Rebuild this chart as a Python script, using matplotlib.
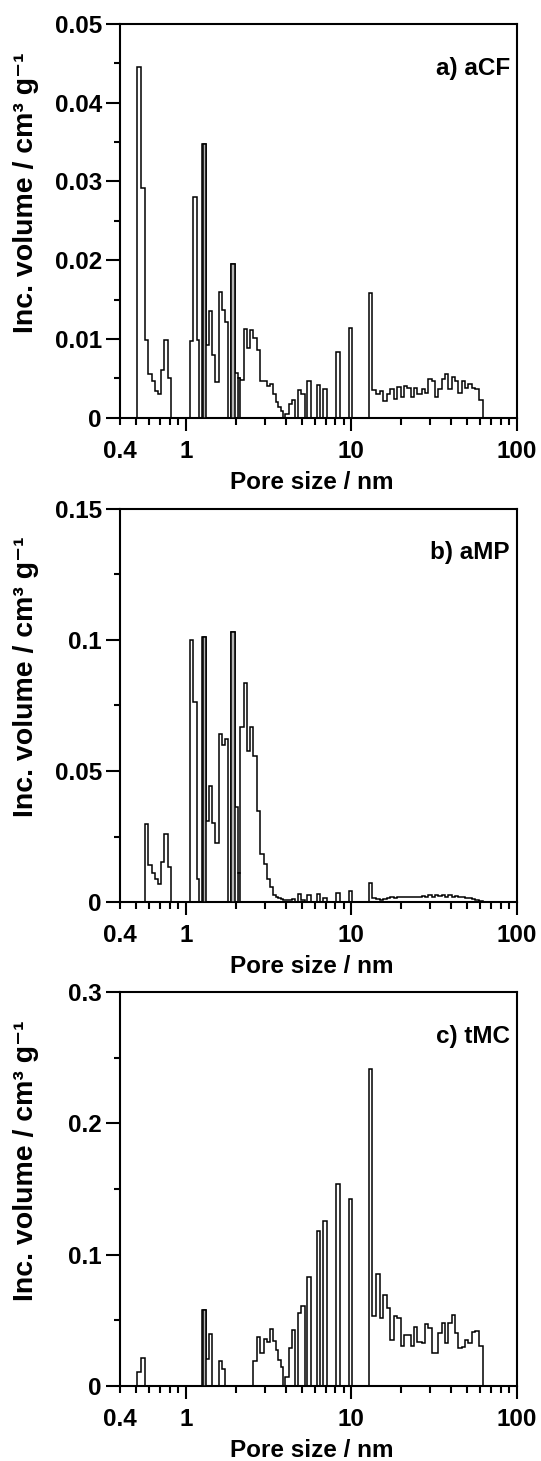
#Incremental pore volume distributions for three carbons (aCF, aMP, tMC),
#stacked in three panels on a log pore-size axis.

import numpy as np
import matplotlib
matplotlib.use('Agg')
import matplotlib.pyplot as plt

plt.rcParams['font.family'] = ['Liberation Sans', 'DejaVu Sans']
plt.rcParams['font.weight'] = 'bold'

######## DATA ##################################################################
#bin edges in nm (shared by all three samples)
poreEdges = [0.505, 0.533, 0.564, 0.594, 0.622, 0.652, 0.677, 0.709, 0.739, 0.778, 0.815,
             1.057, 1.098, 1.161, 1.205, 1.245, 1.262, 1.322, 1.372, 1.438, 1.506, 1.578,
             1.645, 1.723, 1.805, 1.883, 1.981, 2.076, 2.135, 2.236, 2.343, 2.431, 2.547,
             2.681, 2.822, 2.956, 3.097, 3.214, 3.367, 3.479, 3.610, 3.747, 3.854, 3.981,
             4.171, 4.369, 4.577, 4.751, 4.977, 5.214, 5.412, 5.723, 6.192, 6.486, 6.732,
             7.118, 8.037, 8.498, 9.679, 10.14, 12.74, 13.35, 13.98, 14.85, 15.56, 16.30,
             17.07, 18.06, 18.92, 19.82, 20.76, 21.75, 22.78, 23.87, 25.00, 26.56, 27.83,
             29.15, 30.54, 31.99, 33.52, 35.11, 36.78, 38.54, 40.37, 42.29, 44.31, 46.42,
             48.63, 50.94, 53.37, 55.91, 58.57, 62.22]

#incremental volume per bin, cm3/g
volACF = [0.0445, 0.0292, 0.0099, 0.0055, 0.0046, 0.0034, 0.0030, 0.0060, 0.0099, 0.0051, 0,
          0.0097, 0.0280, 0.0099, 0,
          0.0347, 0.0347, 0.0092, 0.0135, 0.0080, 0.0045, 0.0160, 0.0137, 0.0122, 0,
          0.0195, 0.0057, 0.0050, 0.0048, 0.0113, 0.0088, 0.0111, 0.0101, 0.0086, 0.0047,
          0.0046, 0.0040, 0.0043, 0.0030, 0.0020, 0.0014, 0.0008, 0, 0.0005, 0.0017,
          0.0022, 0, 0.0035, 0.0030, 0, 0.0047, 0, 0.0041, 0, 0.0037,
          0, 0.0083, 0, 0.0114, 0, 0.0158,
          0.0035, 0.0030, 0.0034, 0.0021, 0.0030, 0.0037, 0.0024, 0.0039, 0.0026, 0.0040,
          0.0038, 0.0026, 0.0038, 0.0030, 0.0036, 0.0031, 0.0049, 0.0046, 0.0026, 0.0037,
          0.0049, 0.0055, 0.0036, 0.0052, 0.0047, 0.0032, 0.0046, 0.0038, 0.0043, 0.0038,
          0.0036, 0.0023]

volAMP = [0, 0, 0.0297, 0.0142, 0.0113, 0.0088, 0.0069, 0.0152, 0.0259, 0.0136, 0,
          0.0999, 0.0764, 0.0088, 0,
          0.1011, 0.1011, 0.0311, 0.0443, 0.0301, 0.0225, 0.0643, 0.0599, 0.0621, 0,
          0.1030, 0.0362, 0.0110, 0.0669, 0.0834, 0.0576, 0.0666, 0.0558, 0.0349, 0.0183,
          0.0145, 0.0088, 0.0060, 0.0028, 0.0022, 0.0015, 0.0011, 0.0010, 0.0008, 0.0010,
          0.0012, 0, 0.0030, 0.0010, 0, 0.0028, 0, 0.0030, 0, 0.0015,
          0, 0.0037, 0, 0.0043, 0, 0.0072,
          0.0015, 0.0012, 0.0009, 0.0012, 0.0015, 0.0019, 0.0015, 0.0019, 0.0022, 0.0019,
          0.0022, 0.0019, 0.0022, 0.0019, 0.0024, 0.0022, 0.0026, 0.0022, 0.0028, 0.0024,
          0.0028, 0.0022, 0.0026, 0.0022, 0.0024, 0.0019, 0.0022, 0.0017, 0.0015, 0.0013,
          0.0010, 0.0006]

volTMC = [0.0107, 0.0214, 0, 0, 0, 0, 0, 0, 0, 0, 0,
          0, 0, 0, 0,
          0.0577, 0.0577, 0.0203, 0.0394, 0, 0, 0.0186, 0.0127, 0, 0,
          0, 0, 0, 0, 0, 0, 0, 0.0190, 0.0370, 0.0250,
          0.0360, 0.0330, 0.0430, 0.0340, 0.0270, 0.0200, 0.0140, 0, 0.0069, 0.0285,
          0.0425, 0, 0.0554, 0.0610, 0, 0.0826, 0, 0.1177, 0, 0.1258,
          0, 0.1535, 0, 0.1420, 0, 0.2417,
          0.0531, 0.0849, 0.0514, 0.0691, 0.0590, 0.0348, 0.0531, 0.0514, 0.0302, 0.0386,
          0.0386, 0.0302, 0.0450, 0.0330, 0.0328, 0.0468, 0.0437, 0.0252, 0.0252, 0.0399,
          0.0475, 0.0323, 0.0475, 0.0539, 0.0399, 0.0290, 0.0297, 0.0348, 0.0323, 0.0412,
          0.0417, 0.0302]

panelLabels = ['a) aCF', 'b) aMP', 'c) tMC']
yTickVals = [[0, 0.01, 0.02, 0.03, 0.04, 0.05],
             [0, 0.05, 0.1, 0.15],
             [0, 0.1, 0.2, 0.3]]
yTickLabels = [['0', '0.01', '0.02', '0.03', '0.04', '0.05'],
               ['0', '0.05', '0.1', '0.15'],
               ['0', '0.1', '0.2', '0.3']]
xMajor = [1, 10, 100]
xMajorLabels = ['1', '10', '100']
xMinor = [0.4, 0.5, 0.6, 0.7, 0.8, 0.9, 2, 3, 4, 5, 6, 7, 8, 9,
          20, 30, 40, 50, 60, 70, 80, 90]
xMinorLabels = ['0.4'] + [''] * 21
################################################################################

greyBins = [16, 25, 27]   #bins that print as doubled, grey-filled outlines
greyFill = '#b4b4b4'
LW = 1.1
FS = 17.5

######## PLOT ONE PANEL ########################################################
def plotPanel(ax, vols, yTicks, yLabels, panelLabel):
    edges = np.array(poreEdges)
    h = np.array(vols)
    ax.stairs(h, edges, color='black', linewidth=LW, baseline=0)
    for i in greyBins:
        if h[i] > 0:
            ax.bar(edges[i], h[i], width=edges[i+1] - edges[i], align='edge',
                   color=greyFill, edgecolor='black', linewidth=LW, zorder=3)
    ax.set_xscale('log')
    ax.set_xlim(0.4, 100)
    ax.set_xticks(xMajor)
    ax.set_xticklabels(xMajorLabels)
    ax.set_xticks(xMinor, minor=True)
    ax.set_xticklabels(xMinorLabels, minor=True)
    ax.set_ylim(yTicks[0], yTicks[-1])
    ax.set_yticks(yTicks)
    ax.set_yticklabels(yLabels)
    step = yTicks[1] - yTicks[0]
    ax.set_yticks(np.array(yTicks[:-1]) + step / 2, minor=True)
    ax.tick_params(axis='x', which='major', direction='out', length=9.7, width=1.5,
                   pad=6, labelsize=FS)
    ax.tick_params(axis='x', which='minor', direction='out', length=5, width=1.5,
                   pad=10.7, labelsize=FS)
    ax.tick_params(axis='y', which='major', direction='out', length=10, width=1.5,
                   pad=3, labelsize=FS)
    ax.tick_params(axis='y', which='minor', direction='out', length=4.5, width=1.5)
    for sp in ax.spines.values():
        sp.set_linewidth(1.5)
    ax.set_xlabel('Pore size / nm', fontsize=FS, fontweight='bold')
    ax.xaxis.set_label_coords(0.484, -0.135)
    ax.set_ylabel('Inc. volume / cm\u00b3 g\u207b\u00b9', fontsize=20.5, fontweight='bold')
    ax.yaxis.set_label_coords(-0.205, 0.572)
    ax.text(0.982, 0.917, panelLabel, transform=ax.transAxes, ha='right', va='top',
            fontsize=FS, fontweight='bold')
################################################################################

######## MASTER FUNCTION #######################################################
def masterFunction():
    fig = plt.figure(figsize=(5.41, 14.61), dpi=100)
    bottoms = [0.7141, 0.3824, 0.0515]
    allVols = [volACF, volAMP, volTMC]
    for k in range(3):
        ax = fig.add_axes([0.2218, bottoms[k], 0.7338, 0.2695])
        plotPanel(ax, allVols[k], yTickVals[k], yTickLabels[k], panelLabels[k])
    fig.savefig('out.png', dpi=100)
################################################################################

masterFunction()
